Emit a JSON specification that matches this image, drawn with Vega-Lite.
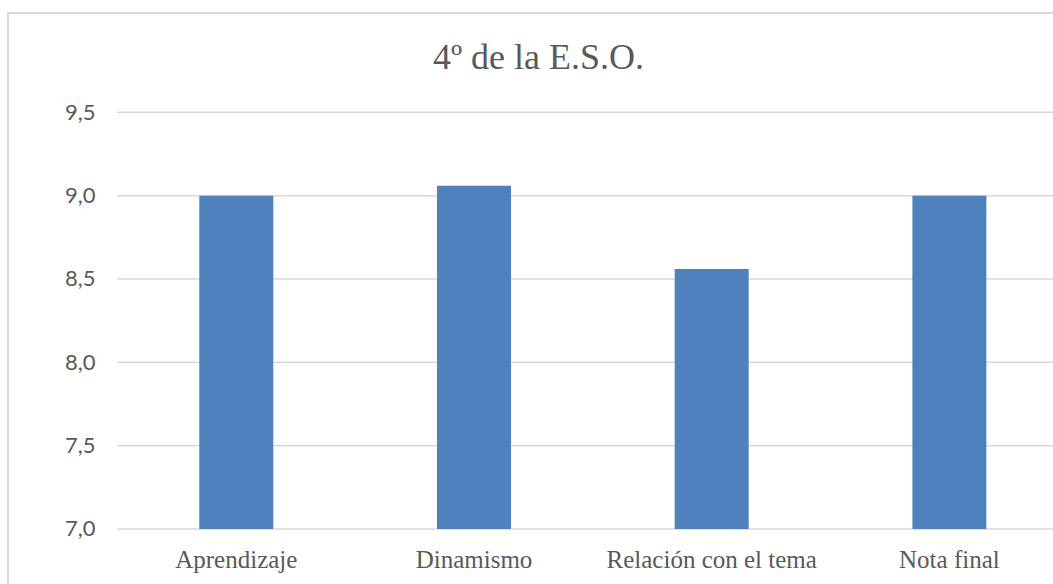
{
  "$schema": "https://vega.github.io/schema/vega-lite/v6.json",
  "autosize": {"type": "none"},
  "width": 1047,
  "height": 573,
  "padding": {"left": 8, "top": 13, "right": -2, "bottom": -2},
  "background": "#ffffff",
  "title": {
    "text": "4º de la E.S.O.",
    "font": "Liberation Serif",
    "fontSize": 36,
    "fontWeight": "normal",
    "color": "#595959",
    "anchor": "middle",
    "frame": "group",
    "baseline": "alphabetic",
    "offset": -92,
    "dx": 7
  },
  "data": {
    "values": [
      {"categoria": "Aprendizaje", "valor": 9.0},
      {"categoria": "Dinamismo", "valor": 9.06},
      {"categoria": "Relación con el tema", "valor": 8.56},
      {"categoria": "Nota final", "valor": 9.0}
    ]
  },
  "layer": [
    {
      "data": {"values": [{"valor": 7.0}, {"valor": 7.5}, {"valor": 8.0}, {"valor": 8.5}, {"valor": 9.0}, {"valor": 9.5}]},
      "mark": {"type": "rule", "color": "#D9D9D9", "strokeWidth": 1.5},
      "encoding": {
        "y": {
          "field": "valor",
          "type": "quantitative",
          "axis": {
            "title": null,
            "orient": "left",
            "offset": -95,
            "values": [7.0, 7.5, 8.0, 8.5, 9.0, 9.5],
            "labelExpr": "replace(format(datum.value, '.1f'), '.', ',')",
            "domain": false,
            "ticks": false,
            "tickSize": 0,
            "grid": false,
            "labelPadding": 8,
            "labelFont": "Lato",
            "labelFontSize": 22,
            "labelColor": "#595959"
          }
        },
        "x": {
          "datum": "Aprendizaje",
          "bandPosition": -1.112,
          "axis": {
            "title": null,
            "orient": "bottom",
            "offset": -57,
            "domain": false,
            "ticks": false,
            "tickSize": 0,
            "grid": false,
            "labelPadding": 18,
            "labelAngle": 0,
            "labelLimit": 0,
            "labelFont": "Liberation Serif",
            "labelFontSize": 25,
            "labelColor": "#595959",
            "labelBaseline": "top"
          }
        },
        "x2": {"datum": "Nota final", "bandPosition": 2}
      }
    },
    {
      "mark": {"type": "bar", "color": "#4F81BD"},
      "encoding": {
        "x": {
          "field": "categoria",
          "type": "nominal",
          "sort": null,
          "scale": {
            "domain": ["Aprendizaje", "Dinamismo", "Relación con el tema", "Nota final"],
            "paddingInner": 0.6887,
            "paddingOuter": 0.5467,
            "align": 0.736
          },
          "axis": {
            "title": null,
            "orient": "bottom",
            "offset": -57,
            "domain": false,
            "ticks": false,
            "tickSize": 0,
            "grid": false,
            "labelPadding": 18,
            "labelAngle": 0,
            "labelLimit": 0,
            "labelFont": "Liberation Serif",
            "labelFontSize": 25,
            "labelColor": "#595959",
            "labelBaseline": "top"
          }
        },
        "y": {
          "field": "valor",
          "type": "quantitative",
          "scale": {"domain": [6.658, 10.0958], "nice": false, "zero": false},
          "axis": {
            "title": null,
            "orient": "left",
            "offset": -95,
            "values": [7.0, 7.5, 8.0, 8.5, 9.0, 9.5],
            "labelExpr": "replace(format(datum.value, '.1f'), '.', ',')",
            "domain": false,
            "ticks": false,
            "tickSize": 0,
            "grid": false,
            "labelPadding": 8,
            "labelFont": "Lato",
            "labelFontSize": 22,
            "labelColor": "#595959"
          }
        },
        "y2": {"datum": 7.0}
      }
    }
  ],
  "config": {
    "view": {"stroke": "#D9D9D9", "strokeWidth": 2}
  }
}
